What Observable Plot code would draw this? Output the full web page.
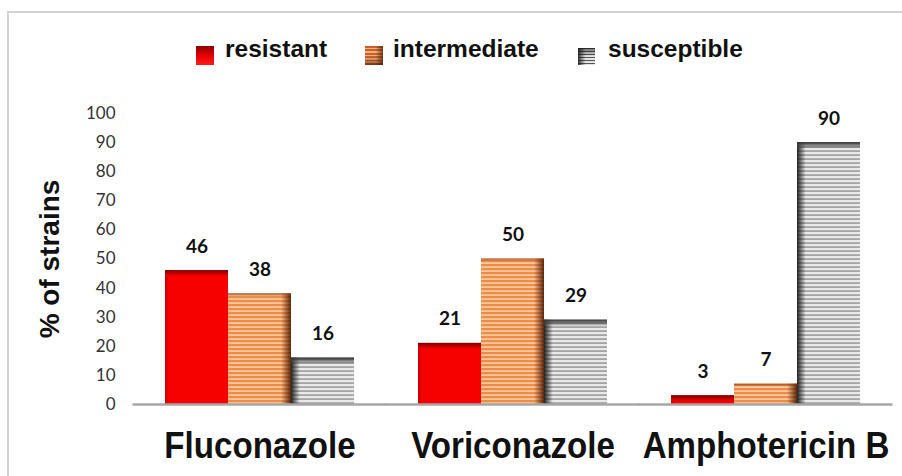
<!DOCTYPE html>
<html>
<head>
<meta charset="utf-8">
<script src="https://cdn.jsdelivr.net/npm/d3@7"></script>
<script src="https://cdn.jsdelivr.net/npm/@observablehq/plot@0.6"></script>
<style>
  html, body { margin: 0; padding: 0; background: #fff; overflow: hidden; }
  #wrap { position: relative; width: 902px; height: 476px; }
  #frame { position: absolute; left: 7px; top: 11px; width: 920px; height: 500px;
           border-left: 2px solid #d2d2d2; border-top: 2px solid #d2d2d2; }
  #chart { position: absolute; left: 0; top: 0; }
  .leg { position: absolute; font-family: "Liberation Sans", Arial, sans-serif; font-weight: bold;
         font-size: 24.5px; color: #111; line-height: 25px; white-space: nowrap; }
  .sw { position: absolute; }
</style>
</head>
<body>
<div id="wrap">
  <div id="frame"></div>
  <div id="chart"></div>
  <div id="legend"></div>
</div>
<script>
// ---- data ----
const drugs = ["Fluconazole", "Voriconazole", "Amphotericin B"];
const types = ["resistant", "intermediate", "susceptible"];
const resistant = [46, 21, 3];
const intermediate = [38, 50, 7];
const susceptible = [16, 29, 90];
const yTicks = [0, 10, 20, 30, 40, 50, 60, 70, 80, 90, 100];
const yLabel = "% of strains";

const series = { resistant, intermediate, susceptible };
const data = [];
drugs.forEach((drug, i) => types.forEach(type => data.push({ drug, type, value: series[type][i] })));

const fills = { resistant: "url(#pRed)", intermediate: "url(#pOrange)", susceptible: "url(#pGray)" };
const edges = { resistant: "url(#eRed)", intermediate: "url(#eOrange)", susceptible: "url(#eGray)" };
const tops = { resistant: "url(#tRed)", intermediate: "url(#tOrange)", susceptible: "url(#tGray)" };
const topSize = { resistant: 2, intermediate: 1, susceptible: 2 };

const marks = [];
types.forEach(t => {
  marks.push(Plot.barY(data, { filter: d => d.type === t, fx: "drug", x: "type", y: "value", fill: fills[t] }));
  marks.push(Plot.barY(data, { filter: d => d.type === t, fx: "drug", x: "type", y: "value", fill: edges[t] }));
  marks.push(Plot.barY(data, { filter: d => d.type === t, fx: "drug", x: "type",
    y1: d => Math.max(0, d.value - topSize[t]), y2: "value", fill: tops[t] }));
});

const chart = Plot.plot({
  width: 902,
  height: 476,
  marginTop: 113,
  marginBottom: 72,
  marginLeft: 133,
  marginRight: 10,
  fx: { domain: drugs, paddingInner: 0.245, paddingOuter: 0.1225, label: null, axis: null },
  x: { domain: types, padding: 0, axis: null },
  y: { domain: [0, 100], axis: null },
  marks: [
    ...marks,
    Plot.ruleY([0], { stroke: "#a6a6a6", strokeWidth: 2.5, insetLeft: -31.5, insetRight: -31.5 }),
    Plot.axisY({ ticks: yTicks, tickSize: 0, tickPadding: 49, label: null,
      fontSize: 17, fontFamily: "Lato, 'Open Sans', sans-serif", fill: "#333" }),
    Plot.axisFx({ anchor: "bottom", tickSize: 0, tickPadding: 28, label: null, className: "fxax",
      fontSize: 36, fontWeight: "bold", fontFamily: "'Liberation Sans', Arial, sans-serif", fill: "#111" }),
    Plot.text(data, { fx: "drug", x: "type", y: "value", text: d => String(d.value), dy: -24,
      fontSize: 19, fontWeight: "bold", fontFamily: "Lato, sans-serif", fill: "#111" }),
    Plot.text([yLabel], { facet: "super", frameAnchor: "left", textAnchor: "middle", dx: -114, rotate: -90,
      fontSize: 28, fontWeight: "bold", fontFamily: "'Liberation Sans', Arial, sans-serif", fill: "#111" })
  ]
});

d3.select(chart).insert("defs", ":first-child").html(`
  <pattern id="pRed" patternUnits="userSpaceOnUse" width="10" height="10">
    <rect width="10" height="10" fill="#f70000"/>
  </pattern>
  <pattern id="pOrange" patternUnits="userSpaceOnUse" width="10" height="4">
    <rect width="10" height="4" fill="#ee8c46"/>
    <rect y="2.2" width="10" height="1.8" fill="#f9c8a0"/>
  </pattern>
  <pattern id="pGray" patternUnits="userSpaceOnUse" width="10" height="4">
    <rect width="10" height="4" fill="#e9e9e9"/>
    <rect y="2.2" width="10" height="1.8" fill="#a4a4a4"/>
  </pattern>
  <linearGradient id="eRed" x1="0" x2="1" y1="0" y2="0">
    <stop offset="0" stop-color="#a00000" stop-opacity="0.6"/>
    <stop offset="0.06" stop-color="#a00000" stop-opacity="0"/>
    <stop offset="1" stop-color="#a00000" stop-opacity="0"/>
  </linearGradient>
  <linearGradient id="eOrange" x1="0" x2="1" y1="0" y2="0">
    <stop offset="0" stop-color="#5a2000" stop-opacity="0"/>
    <stop offset="0.84" stop-color="#5a2000" stop-opacity="0"/>
    <stop offset="1" stop-color="#4a1800" stop-opacity="0.9"/>
  </linearGradient>
  <linearGradient id="eGray" x1="0" x2="1" y1="0" y2="0">
    <stop offset="0" stop-color="#1a1a1a" stop-opacity="0.95"/>
    <stop offset="0.14" stop-color="#1a1a1a" stop-opacity="0"/>
    <stop offset="1" stop-color="#1a1a1a" stop-opacity="0"/>
  </linearGradient>
  <linearGradient id="tRed" x1="0" x2="0" y1="0" y2="1">
    <stop offset="0" stop-color="#7a0000"/>
    <stop offset="1" stop-color="#f70000"/>
  </linearGradient>
  <linearGradient id="tOrange" x1="0" x2="0" y1="0" y2="1">
    <stop offset="0" stop-color="#8a3a10" stop-opacity="0.8"/>
    <stop offset="1" stop-color="#8a3a10" stop-opacity="0"/>
  </linearGradient>
  <linearGradient id="tGray" x1="0" x2="0" y1="0" y2="1">
    <stop offset="0" stop-color="#333" stop-opacity="1"/>
    <stop offset="1" stop-color="#555" stop-opacity="0.3"/>
  </linearGradient>
`);
document.getElementById("chart").appendChild(chart);

// condense the category labels (reference uses a narrow bold face)
d3.select(chart).selectAll(".fxax text").each(function () {
  const w = this.getComputedTextLength();
  this.setAttribute("textLength", (w * 0.92).toFixed(1));
  this.setAttribute("lengthAdjust", "spacingAndGlyphs");
});

// ---- legend (HTML, above the plot area) ----
const legendItems = [
  { label: "resistant", sw: { left: 196, top: 46, w: 18, h: 19,
      bg: "linear-gradient(to bottom, #8a0000 0%, #e00000 45%, #ff1a1a 100%)" }, tx: 225 },
  { label: "intermediate", sw: { left: 365, top: 46, w: 18, h: 19,
      bg: "linear-gradient(to bottom, rgba(0,0,0,0) 55%, rgba(70,25,0,0.6) 100%), linear-gradient(to right, rgba(0,0,0,0) 60%, rgba(70,25,0,0.7) 100%), repeating-linear-gradient(to bottom, #c8602a 0px, #c8602a 1.7px, #f3b07e 1.7px, #f3b07e 3.4px)" }, tx: 393 },
  { label: "susceptible", sw: { left: 578, top: 48, w: 17, h: 17,
      bg: "linear-gradient(to right, rgba(20,20,20,0.85) 0%, rgba(20,20,20,0) 45%), linear-gradient(to bottom, rgba(20,20,20,0.6) 0%, rgba(20,20,20,0) 50%), repeating-linear-gradient(to bottom, #555 0px, #555 1.5px, #e4e4e4 1.5px, #e4e4e4 3px)" }, tx: 608 }
];
const leg = document.getElementById("legend");
legendItems.forEach(it => {
  const s = document.createElement("div");
  s.className = "sw";
  Object.assign(s.style, { left: it.sw.left + "px", top: it.sw.top + "px", width: it.sw.w + "px",
    height: it.sw.h + "px", background: it.sw.bg });
  leg.appendChild(s);
  const t = document.createElement("div");
  t.className = "leg";
  t.textContent = it.label;
  Object.assign(t.style, { left: it.tx + "px", top: "36px" });
  leg.appendChild(t);
});
</script>
</body>
</html>
